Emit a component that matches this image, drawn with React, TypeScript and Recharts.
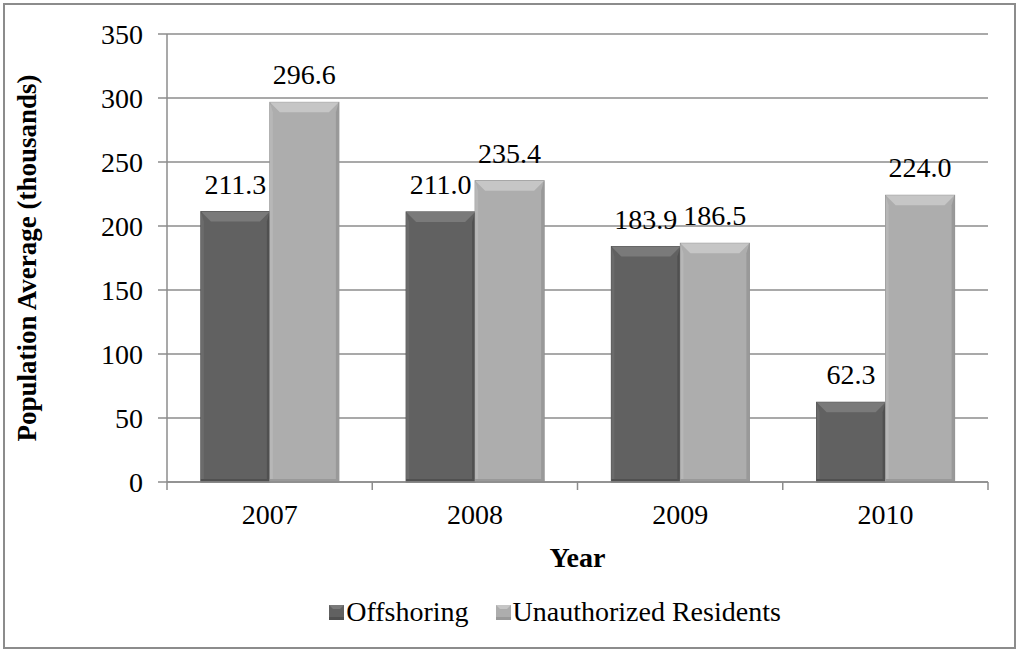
import React from "react";
import {
  BarChart,
  Bar,
  XAxis,
  YAxis,
  CartesianGrid,
  Legend,
  LabelList,
  Label
} from "recharts";

const years = ["2007", "2008", "2009", "2010"];
const offshoring = [211.3, 211.0, 183.9, 62.3];
const unauthorized = [296.6, 235.4, 186.5, 224.0];
const yTicks = [0, 50, 100, 150, 200, 250, 300, 350];

const data = years.map((year, i) => ({
  year,
  offshoring: offshoring[i],
  unauthorized: unauthorized[i]
}));

const FONT = "'Liberation Serif', 'Times New Roman', serif";
const GRID = "#8c8c8c";
const X_TICK_MARGIN = 22;

const SHADES: Record<string, { face: string; top: string; left: string; right: string; edge: string }> = {
  "#616161": { face: "#616161", top: "#7a7a7a", left: "#6b6b6b", right: "#505050", edge: "#484848" },
  "#adadad": { face: "#adadad", top: "#c6c6c6", left: "#b7b7b7", right: "#999999", edge: "#8e8e8e" }
};

const BevelBar = (props: any) => {
  const { x, y, width: w, height: h, fill } = props;
  if (!h || h <= 0) return null;
  const c = SHADES[fill] || SHADES["#616161"];
  const b = Math.min(10, h / 2);
  const s = 3;
  return (
    <g>
      <rect x={x} y={y} width={w} height={h} fill={c.face} stroke={c.edge} strokeWidth={1} />
      <polygon points={`${x},${y} ${x + s},${y + b} ${x + s},${y + h} ${x},${y + h}`} fill={c.left} />
      <polygon points={`${x + w},${y} ${x + w - s},${y + b} ${x + w - s},${y + h} ${x + w},${y + h}`} fill={c.right} />
      <polygon points={`${x},${y} ${x + w},${y} ${x + w - b},${y + b} ${x + b},${y + b}`} fill={c.top} />
      <rect x={x} y={y + h - 3} width={w} height={3} fill={c.right} />
    </g>
  );
};

// category label plus tick marks on the category boundaries
const YearTick = (props: any) => {
  const { x, y, payload, visibleTicksCount } = props;
  const half = payload.offset || 0;
  const axisY = y - X_TICK_MARGIN;
  const isLast = payload.index === visibleTicksCount - 1;
  return (
    <g>
      <line x1={x - half} y1={axisY} x2={x - half} y2={axisY + 8} stroke={GRID} strokeWidth={1.5} />
      {isLast && <line x1={x + half} y1={axisY} x2={x + half} y2={axisY + 8} stroke={GRID} strokeWidth={1.5} />}
      <text x={x} y={y} dy="0.71em" textAnchor="middle" fontFamily={FONT} fontSize={28} fill="#000">
        {payload.value}
      </text>
    </g>
  );
};

const YLabel = (props: any) => {
  const vb = props.viewBox || {};
  const cx = vb.x + 27;
  const cy = vb.y + vb.height / 2;
  return (
    <text
      x={cx}
      y={cy}
      transform={`rotate(-90, ${cx}, ${cy})`}
      textAnchor="middle"
      dominantBaseline="central"
      fontFamily={FONT}
      fontWeight="bold"
      fontSize={27}
      fill="#000"
    >
      Population Average (thousands)
    </text>
  );
};

const LegendContent = (props: any) => {
  const { payload = [] } = props;
  return (
    <div style={{ display: "flex", justifyContent: "center", alignItems: "center", height: 30, fontFamily: FONT, fontSize: 28, color: "#000" }}>
      {payload.map((p: any, i: number) => {
        const c = SHADES[p.color] || SHADES["#616161"];
        return (
          <span key={i} style={{ display: "inline-flex", alignItems: "center", marginRight: i === 0 ? 27 : 0 }}>
            <svg width={15} height={15} style={{ marginRight: 2 }}>
              <rect x={0} y={0} width={15} height={15} fill={c.face} />
              <polygon points="0,0 15,0 11,4 4,4" fill={c.top} />
              <rect x={0} y={12} width={15} height={3} fill={c.right} />
            </svg>
            <span>{p.value}</span>
          </span>
        );
      })}
    </div>
  );
};

export default function App() {
  return (
    <div style={{ position: "absolute", left: 0, top: 0, width: 1018, height: 650, background: "#fff" }}>
      <div
        style={{
          position: "absolute",
          left: 3,
          top: 3,
          width: 1009,
          height: 642,
          border: "2px solid #8c8c8c"
        }}
      />
      <BarChart
        width={1018}
        height={650}
        data={data}
        margin={{ top: 34, right: 30, left: 0, bottom: 23 }}
        barCategoryGap="16.5%"
        barGap={0}
        style={{ fontFamily: FONT }}
      >
        <CartesianGrid horizontal vertical={false} stroke={GRID} strokeWidth={1.5} />
        <XAxis
          dataKey="year"
          tickLine={false}
          tickSize={0}
          tickMargin={X_TICK_MARGIN}
          axisLine={{ stroke: GRID, strokeWidth: 1.5 }}
          tick={<YearTick />}
          interval={0}
          height={115}
        >
          <Label
            value="Year"
            position="insideBottom"
            offset={30}
            style={{ fontFamily: FONT, fontWeight: "bold", fontSize: 28, fill: "#000" }}
          />
        </XAxis>
        <YAxis
          width={167}
          domain={[0, 350]}
          ticks={yTicks}
          interval={0}
          axisLine={{ stroke: GRID, strokeWidth: 1.5 }}
          tickLine={{ stroke: GRID, strokeWidth: 1.5 }}
          tickSize={9}
          tickMargin={15}
          tick={{ fill: "#000", fontSize: 28, fontFamily: FONT }}
        >
          <Label content={<YLabel />} />
        </YAxis>
        <Legend
          verticalAlign="bottom"
          height={30}
          wrapperStyle={{ left: 100, width: 910 }}
          content={<LegendContent />}
        />
        <Bar dataKey="offshoring" name="Offshoring" fill="#616161" shape={<BevelBar />} isAnimationActive={false}>
          <LabelList
            dataKey="offshoring"
            position="top"
            offset={18}
            formatter={(v: any) => Number(v).toFixed(1)}
            style={{ fill: "#000", fontSize: 28, fontFamily: FONT }}
          />
        </Bar>
        <Bar dataKey="unauthorized" name="Unauthorized Residents" fill="#adadad" shape={<BevelBar />} isAnimationActive={false}>
          <LabelList
            dataKey="unauthorized"
            position="top"
            offset={18}
            formatter={(v: any) => Number(v).toFixed(1)}
            style={{ fill: "#000", fontSize: 28, fontFamily: FONT }}
          />
        </Bar>
      </BarChart>
    </div>
  );
}
